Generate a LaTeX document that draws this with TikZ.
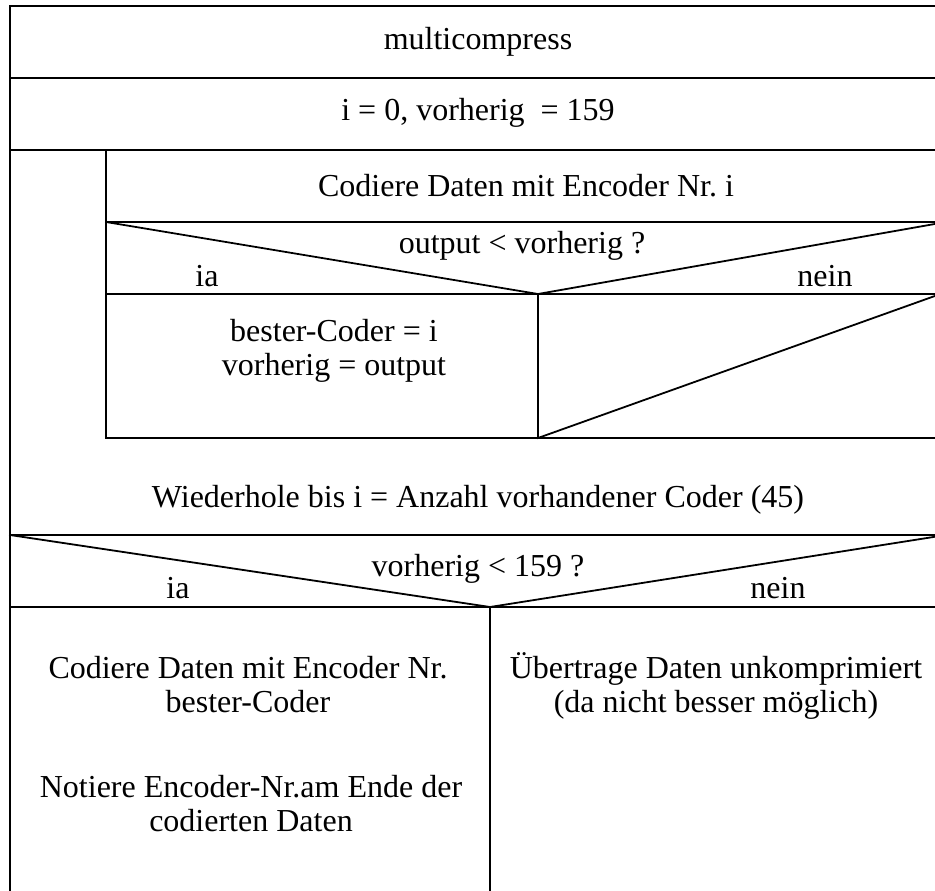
\documentclass[tikz,border=0pt]{standalone}
\usepackage{fontspec}
\setmainfont{Liberation Serif}
\frenchspacing
\begin{document}
\begin{tikzpicture}[x=1pt,y=-1pt,
  ln/.style={line width=1.8pt,line cap=rect},
  txt/.style={anchor=base,inner sep=0pt,font=\fontsize{32}{34}\selectfont}]
\useasboundingbox (0,0) rectangle (935,891);
\clip (0,0) rectangle (935,891);
% coordinates
\coordinate (TL) at (10,6);   \coordinate (TR) at (946,6);
\coordinate (L1) at (10,78);  \coordinate (R1) at (946,78);
\coordinate (L2) at (10,150); \coordinate (R2) at (946,150);
\coordinate (IL2) at (106,150);
\coordinate (IL3) at (106,222); \coordinate (IR3) at (946,222);
\coordinate (IL4) at (106,294); \coordinate (IM4) at (538,294); \coordinate (IR4) at (946,294);
\coordinate (IL5) at (106,438); \coordinate (IM5) at (538,438); \coordinate (IR5) at (946,438);
\coordinate (IRd) at (946,292);
\coordinate (L6) at (10,535); \coordinate (R6) at (946,535);
\coordinate (L7) at (10,607); \coordinate (M7) at (490,607); \coordinate (R7) at (946,607);
\coordinate (LB) at (10,891); \coordinate (MB) at (490,891);
% frame lines
\draw[ln] (TL) -- (TR);
\draw[ln] (TL) -- (LB);
\draw[ln] (L1) -- (R1);
\draw[ln] (L2) -- (R2);
% inner loop body
\draw[ln] (IL2) -- (IL5) -- (IR5);
\draw[ln] (IL3) -- (IR3);
\draw[ln] (IL3) -- (IM4) -- (IR3);
\draw[ln] (IL4) -- (IR4);
\draw[ln] (IM4) -- (IM5);
\draw[ln] (IM5) -- (IRd);
% outer decision
\draw[ln] (L6) -- (R6);
\draw[ln] (L6) -- (M7) -- (R6);
\draw[ln] (L7) -- (R7);
\draw[ln] (M7) -- (MB);
% texts
\node[txt] (t1) at (478,50) {multicompress};
\node[txt] (t2) at (478,121) {i = 0, vorherig\ \ = 159};
\node[txt] (t3) at (526,196) {Codiere Daten mit Encoder Nr. i};
\node[txt] (t4) at (522,253) {output < vorherig ?};
\node[txt] (t5) at (207,286) {ia};
\node[txt] (t6) at (825,286) {nein};
\node[txt] (t7) at (334,341) {bester-Coder = i};
\node[txt] (t8) at (334,375) {vorherig = output};
\node[txt] (t9) at (478,507) {Wiederhole bis i = Anzahl vorhandener Coder (45)};
\node[txt] (t10) at (478,576) {vorherig < 159 ?};
\node[txt] (t11) at (178,598) {ia};
\node[txt] (t12) at (778,598) {nein};
\node[txt] (t13) at (248,678) {Codiere Daten mit Encoder Nr.};
\node[txt] (t14) at (248,712) {bester-Coder};
\node[txt] (t15) at (716,678) {Übertrage Daten unkomprimiert};
\node[txt] (t16) at (716,712) {(da nicht besser möglich)};
\node[txt] (t17) at (251,797) {Notiere Encoder-Nr.am Ende der};
\node[txt] (t18) at (251,831) {codierten Daten};
\end{tikzpicture}
\end{document}
